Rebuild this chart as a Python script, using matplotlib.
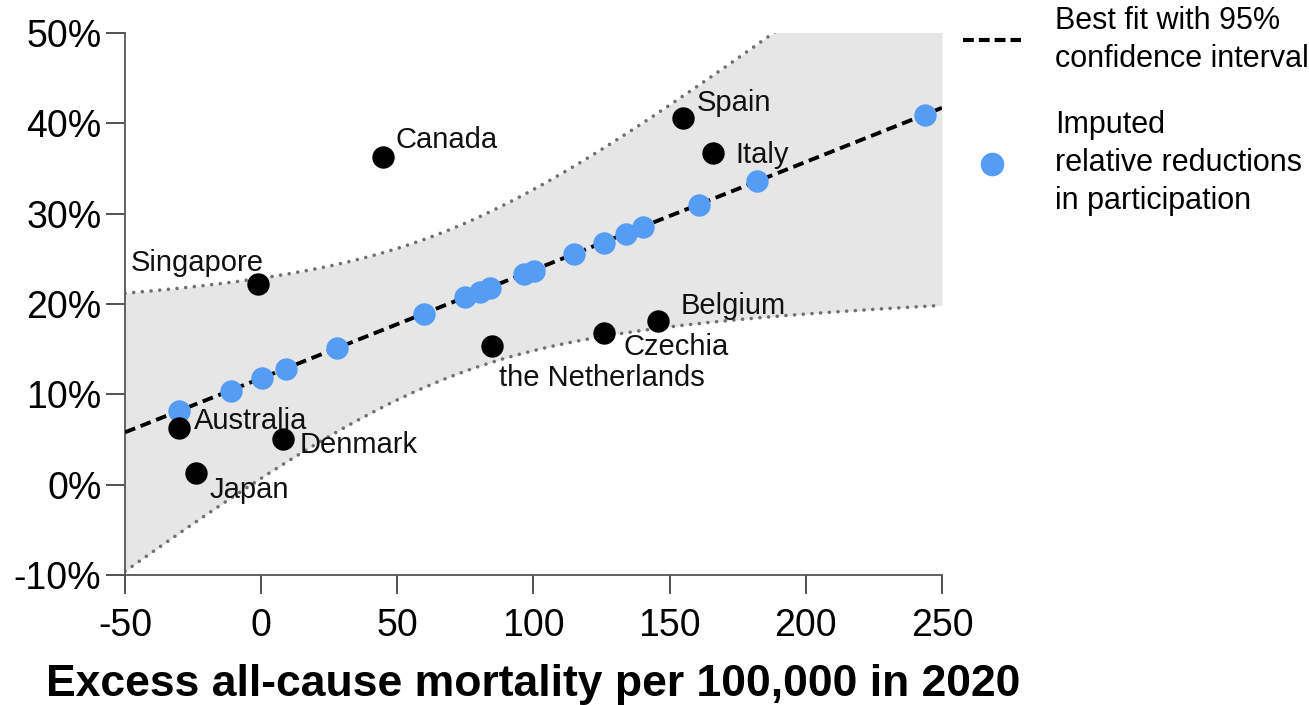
import numpy as np
import matplotlib
matplotlib.use('Agg')
import matplotlib.pyplot as plt
from matplotlib.lines import Line2D

plt.rcParams['font.family'] = ['Liberation Sans', 'DejaVu Sans']

# observed countries
countries = ['Canada', 'Singapore', 'Spain', 'Italy', 'Belgium', 'Czechia',
             'the Netherlands', 'Australia', 'Japan', 'Denmark']
mortality = [44.7, -1.2, 154.9, 165.9, 145.7, 125.9, 84.8, -30.2, -23.9, 8.0]
reduction = [36.3, 22.2, 40.6, 36.7, 18.1, 16.8, 15.3, 6.3, 1.3, 5.0]

# imputed points (on the fit line)
imp_mortality = [-30.2, -11.1, 0.3, 9.1, 27.9, 59.8, 74.9, 80.4, 84.0, 96.5,
                 100.2, 114.9, 125.9, 134.0, 140.2, 160.8, 182.1, 243.8]
imp_reduction = [8.2, 10.4, 11.8, 12.8, 15.1, 18.9, 20.8, 21.3, 21.8, 23.3,
                 23.7, 25.5, 26.8, 27.8, 28.5, 31.0, 33.6, 40.9]

# label offsets in points
offsets = {'Canada': (9, 12, 'left'), 'Singapore': (4, 15, 'right'),
           'Spain': (10, 11, 'left'), 'Italy': (16, -1, 'left'),
           'Belgium': (16, 11, 'left'), 'Czechia': (14, -10, 'left'),
           'the Netherlands': (5, -23, 'left'), 'Australia': (11, 5, 'left'),
           'Japan': (10, -12, 'left'), 'Denmark': (12, -4, 'left')}

# linear fit with 95% confidence band
x = np.array(mortality)
y = np.array(reduction)
n = len(x)
slope, intercept = np.polyfit(x, y, 1)
resid = y - (slope * x + intercept)
s = np.sqrt((resid ** 2).sum() / (n - 2))
sxx = ((x - x.mean()) ** 2).sum()
t = 2.306
xs = np.linspace(-50, 250, 300)
fit = slope * xs + intercept
half = t * s * np.sqrt(1 / n + (xs - x.mean()) ** 2 / sxx)

fig = plt.figure(figsize=(13.09, 7.05), dpi=100)
ax = fig.add_axes([0.0955, 0.1844, 0.6241, 0.7688])

ax.fill_between(xs, fit - half, fit + half, color='#e6e6e6', lw=0, zorder=1)
ax.plot(xs, fit + half, color='#707070', lw=2.6, dashes=(0.01, 2.4),
        dash_capstyle='round', zorder=2)
ax.plot(xs, fit - half, color='#707070', lw=2.6, dashes=(0.01, 2.4),
        dash_capstyle='round', zorder=2)
ax.plot(xs, fit, color='black', lw=2.8, dashes=(2.8, 1.5), zorder=3)
ax.scatter(imp_mortality, imp_reduction, s=260, color='#559cf5', lw=0, zorder=4)
ax.scatter(mortality, reduction, s=260, color='black', lw=0, zorder=5)

for c, mx, my in zip(countries, mortality, reduction):
    dx, dy, ha = offsets[c]
    ax.annotate(c, (mx, my), xytext=(dx, dy), textcoords='offset points',
                ha=ha, va='center', fontsize=21, color='#111111', zorder=6)

ax.set_xlim(-50, 250)
ax.set_ylim(-10, 50)
ax.set_xticks(range(-50, 251, 50))
ax.set_xticklabels(['-50', '0', '50', '100', '150', '200', '250'])
ax.set_yticks(range(-10, 51, 10))
ax.set_yticklabels([f'{v}%' for v in range(-10, 51, 10)])
for side in ['top', 'right']:
    ax.spines[side].set_visible(False)
for side in ['left', 'bottom']:
    ax.spines[side].set_color('#555555')
    ax.spines[side].set_linewidth(1.3)
ax.tick_params(axis='both', length=14, width=1.2, color='#333333', labelsize=27)
ax.tick_params(axis='x', pad=10)
ax.tick_params(axis='y', pad=3)
ax.set_xlabel('Excess all-cause mortality per 100,000 in 2020', fontsize=32,
              fontweight='bold', labelpad=14)

handles = [Line2D([], [], color='black', lw=3.0, dashes=(2.6, 1.2)),
           Line2D([], [], color='#559cf5', marker='o', ms=17, lw=0, mew=0)]
labels = ['Best fit with 95%\nconfidence interval',
          'Imputed\nrelative reductions\nin participation']
leg = fig.legend(handles, labels, loc='upper left',
                 bbox_to_anchor=(0.7357, 0.992), frameon=False, fontsize=22,
                 handlelength=1.9, handletextpad=1.1, labelspacing=1.2,
                 borderpad=0, borderaxespad=0)
for txt in leg.get_texts():
    txt.set_linespacing(1.35)

fig.savefig('out.png', dpi=100)
